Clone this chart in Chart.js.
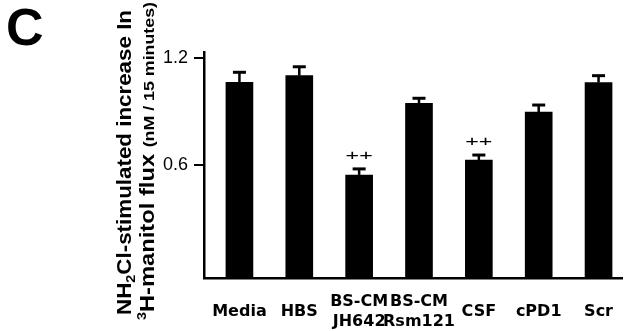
<!DOCTYPE html>
<html><head><meta charset="utf-8">
<script src="https://cdn.jsdelivr.net/npm/chart.js@4.4.0/dist/chart.umd.min.js"></script>
<style>html,body{margin:0;padding:0;background:#fff;overflow:hidden}#wrap{width:629px;height:331px;position:relative}</style>
</head><body><div id="wrap"><canvas id="c" width="629" height="331"></canvas></div>
<script>
// ---- data ----
const categories = [["Media"], ["HBS"], ["BS-CM", "JH642"], ["BS-CM", "Rsm121"], ["CSF"], ["cPD1"], ["Scr"]];
const means = [1.065, 1.102, 0.544, 0.947, 0.628, 0.897, 1.063];
const errors = [0.056, 0.050, 0.034, 0.028, 0.028, 0.040, 0.039];
const significance = ["", "", "++", "", "++", "", ""];
const yTicks = [0.6, 1.2];
const yMin = -0.035, yMax = 1.235;
const panelLabel = "C";
const yTitleLine1 = [["NH", "main"], ["2", "sub"], ["Cl-stimulated increase In", "main"]];
const yTitleLine2 = [["3", "sup"], ["H-manitol flux ", "main"], ["(nM / 15 minutes)", "small"]];

const FAM = '"Liberation Sans", Arial, Helvetica, sans-serif';
const XFAM = '"DejaVu Sans", "Liberation Sans", Arial, sans-serif';

const errorBars = {
  id: 'errorBars',
  afterDatasetsDraw(chart) {
    const ctx = chart.ctx, xs = chart.scales.x, ys = chart.scales.y;
    ctx.save();
    ctx.strokeStyle = '#000';
    means.forEach((m, i) => {
      const x = xs.getPixelForValue(i);
      const y0 = ys.getPixelForValue(m);
      const y1 = ys.getPixelForValue(m + errors[i]);
      ctx.lineWidth = 2.5;
      ctx.beginPath(); ctx.moveTo(x, y0); ctx.lineTo(x, y1); ctx.stroke();
      ctx.lineWidth = 3;
      ctx.beginPath(); ctx.moveTo(x - 6.5, y1); ctx.lineTo(x + 6.5, y1); ctx.stroke();
      if (significance[i]) {
        ctx.save();
        ctx.fillStyle = '#000';
        ctx.font = '15px ' + FAM;
        ctx.textAlign = 'center';
        ctx.textBaseline = 'middle';
        ctx.translate(x, y1 - 13);
        ctx.scale(1.55, 1);
        ctx.fillText(significance[i], 0, 0);
        ctx.restore();
      }
    });
    ctx.restore();
  }
};

function drawRich(ctx, segs, x, y, fonts, targetLen) {
  ctx.save();
  let w = 0;
  for (const [t, k] of segs) { ctx.font = fonts[k].font; w += ctx.measureText(t).width; }
  const s = targetLen / w;
  ctx.translate(x, y); ctx.rotate(-Math.PI / 2); ctx.scale(s, 1);
  ctx.fillStyle = '#000'; ctx.textBaseline = 'alphabetic'; ctx.textAlign = 'left';
  let cx = 0;
  for (const [t, k] of segs) { ctx.font = fonts[k].font; ctx.fillText(t, cx, fonts[k].dy); cx += ctx.measureText(t).width; }
  ctx.restore();
}

const titles = {
  id: 'titles',
  afterDraw(chart) {
    const ctx = chart.ctx;
    const fonts = {
      main: { font: 'bold 20px ' + FAM, dy: 0 },
      sub: { font: 'bold 13px ' + FAM, dy: 4 },
      sup: { font: 'bold 12px ' + FAM, dy: -8 },
      small: { font: 'bold 15px ' + FAM, dy: 0 }
    };
    drawRich(ctx, yTitleLine1, 131, 315, fonts, 305);
    drawRich(ctx, yTitleLine2, 153.5, 320, fonts, 318);
    ctx.save();
    ctx.fillStyle = '#000';
    ctx.font = 'bold 52px ' + FAM;
    ctx.textBaseline = 'alphabetic';
    ctx.fillText(panelLabel, 6, 45);
    ctx.restore();
  }
};

new Chart(document.getElementById('c').getContext('2d'), {
  type: 'bar',
  data: {
    datasets: [{
      data: means.map((v, i) => ({ x: i, y: v })),
      backgroundColor: '#000',
      borderWidth: 0,
      barThickness: 27,
      base: yMin
    }]
  },
  options: {
    responsive: false,
    animation: false,
    devicePixelRatio: 1,
    layout: { padding: { top: 52, left: 0, right: 0, bottom: 0 } },
    plugins: { legend: { display: false }, tooltip: { enabled: false } },
    scales: {
      x: {
        type: 'linear', offset: false,
        min: -0.592, max: 6.395,
        afterBuildTicks: s => { s.ticks = categories.map((c, i) => ({ value: i })); },
        afterFit: s => { s.height = 53; },
        ticks: {
          callback: v => categories[v],
          font: { family: XFAM, weight: 'bold', size: 16, lineHeight: 1.25 },
          color: '#000', padding: 16, maxRotation: 0, minRotation: 0, autoSkip: false, crossAlign: 'center'
        },
        grid: { display: false },
        border: { display: true, color: '#000', width: 2.5 }
      },
      y: {
        min: yMin, max: yMax,
        afterBuildTicks: s => { s.ticks = yTicks.map(v => ({ value: v })); },
        afterFit: s => { s.width = 204; },
        ticks: { font: { family: FAM, size: 18 }, color: '#000', padding: 6, callback: v => v.toFixed(1) },
        grid: { drawOnChartArea: false, tickLength: 10, lineWidth: 2, color: '#000' },
        border: { display: true, color: '#000', width: 2.5 }
      }
    }
  },
  plugins: [errorBars, titles]
});
</script></body></html>
